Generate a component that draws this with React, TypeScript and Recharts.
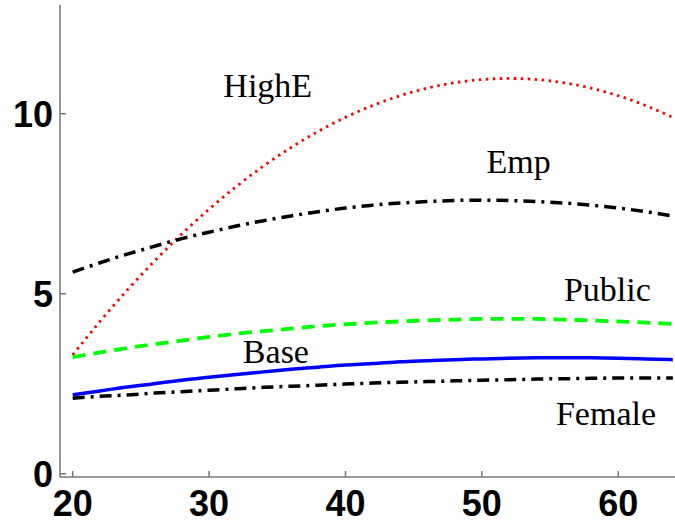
import React from "react";
import { LineChart, Line, XAxis, YAxis, ReferenceDot } from "recharts";

// Age grid (years)
const ages = [20, 22, 24, 26, 28, 30, 32, 34, 36, 38, 40, 42, 44, 46, 48, 50, 52, 54, 56, 58, 60, 62, 64];

// Profiles by group
const highE = [3.3, 4.23, 5.1, 5.91, 6.66, 7.35, 7.98, 8.55, 9.06, 9.51, 9.9, 10.23, 10.5, 10.71, 10.86, 10.95, 10.98, 10.95, 10.86, 10.71, 10.5, 10.23, 9.9];
const emp = [5.6, 5.86, 6.1, 6.32, 6.53, 6.71, 6.88, 7.03, 7.16, 7.28, 7.38, 7.46, 7.52, 7.56, 7.59, 7.6, 7.59, 7.56, 7.52, 7.46, 7.38, 7.28, 7.16];
const publicSec = [3.24, 3.37, 3.49, 3.6, 3.7, 3.8, 3.89, 3.96, 4.03, 4.1, 4.15, 4.2, 4.23, 4.26, 4.28, 4.3, 4.3, 4.3, 4.28, 4.26, 4.23, 4.2, 4.16];
const base = [2.19, 2.3, 2.41, 2.5, 2.6, 2.68, 2.76, 2.83, 2.9, 2.96, 3.02, 3.06, 3.11, 3.14, 3.17, 3.19, 3.21, 3.22, 3.22, 3.22, 3.21, 3.19, 3.17];
const female = [2.1, 2.15, 2.19, 2.24, 2.28, 2.32, 2.36, 2.4, 2.43, 2.46, 2.49, 2.52, 2.54, 2.56, 2.58, 2.6, 2.61, 2.63, 2.64, 2.65, 2.66, 2.66, 2.66];

const xTicks = [20, 30, 40, 50, 60];
const yTicks = [0, 5, 10];

// Curve labels placed in data coordinates (centre x, baseline y)
const labelNames = ["HighE", "Emp", "Public", "Base", "Female"];
const labelAges = [34.3, 52.7, 59.2, 34.9, 59.1];
const labelValues = [10.46, 8.35, 4.8, 3.07, 1.35];

const rows = ages.map((a, i) => ({
  age: a,
  highE: highE[i],
  emp: emp[i],
  publicSec: publicSec[i],
  base: base[i],
  female: female[i],
}));

const AXIS = "#767676";
const TICK_FONT = { fontFamily: "Liberation Sans, Arial, sans-serif", fontWeight: 700, fontSize: 36, fill: "#000" };

const YTick = (props: any) => {
  const { x, y, payload } = props;
  return (
    <g>
      <line x1={x + 7} x2={x + 13} y1={y} y2={y} stroke={AXIS} strokeWidth={1.5} />
      <text x={x} y={y} dy="0.36em" textAnchor="end" {...TICK_FONT}>
        {payload.value}
      </text>
    </g>
  );
};

const XTick = (props: any) => {
  const { x, y, payload } = props;
  return (
    <g>
      <line x1={x} x2={x} y1={y} y2={y - 6} stroke={AXIS} strokeWidth={1.5} />
      <text x={x} y={y + 39} textAnchor="middle" {...TICK_FONT}>
        {payload.value}
      </text>
    </g>
  );
};

const makeLabel = (name: string) => (props: any) => (
  <text
    x={props.cx}
    y={props.cy}
    textAnchor="middle"
    fontFamily="Liberation Serif, Times New Roman, serif"
    fontSize={34}
    fill="#000"
  >
    {name}
  </text>
);

export default function App() {
  return (
    <div style={{ position: "absolute", left: 0, top: 0, background: "#fff" }}>
      <LineChart width={675} height={524} data={rows} margin={{ top: 5, right: 0, bottom: 0, left: 0 }}>
        <XAxis
          dataKey="age"
          type="number"
          domain={[19.07, 64.16]}
          ticks={xTicks}
          allowDataOverflow
          height={47}
          tickSize={0}
          tickMargin={0}
          tickLine={false}
          axisLine={{ stroke: AXIS, strokeWidth: 1.5 }}
          tick={<XTick />}
          interval={0}
        />
        <YAxis
          type="number"
          domain={[-0.09, 13.02]}
          ticks={yTicks}
          allowDataOverflow
          width={60}
          tickSize={0}
          tickMargin={7}
          tickLine={false}
          axisLine={{ stroke: AXIS, strokeWidth: 1.5 }}
          tick={<YTick />}
          interval={0}
        />
        <Line dataKey="highE" type="natural" stroke="#ff0000" strokeWidth={2.8} strokeDasharray="2.5 4.5" dot={false} isAnimationActive={false} />
        <Line dataKey="emp" type="natural" stroke="#000000" strokeWidth={3.5} strokeDasharray="12 6 3 6" dot={false} isAnimationActive={false} />
        <Line dataKey="publicSec" type="natural" stroke="#00ff00" strokeWidth={3.8} strokeDasharray="13 8" dot={false} isAnimationActive={false} />
        <Line dataKey="base" type="natural" stroke="#0000ff" strokeWidth={3.5} dot={false} isAnimationActive={false} />
        <Line dataKey="female" type="natural" stroke="#000000" strokeWidth={3.5} strokeDasharray="12 6 3 6" dot={false} isAnimationActive={false} />
        {labelNames.map((n, i) => (
          <ReferenceDot key={n} x={labelAges[i]} y={labelValues[i]} r={0} shape={makeLabel(n)} ifOverflow="visible" />
        ))}
      </LineChart>
    </div>
  );
}
